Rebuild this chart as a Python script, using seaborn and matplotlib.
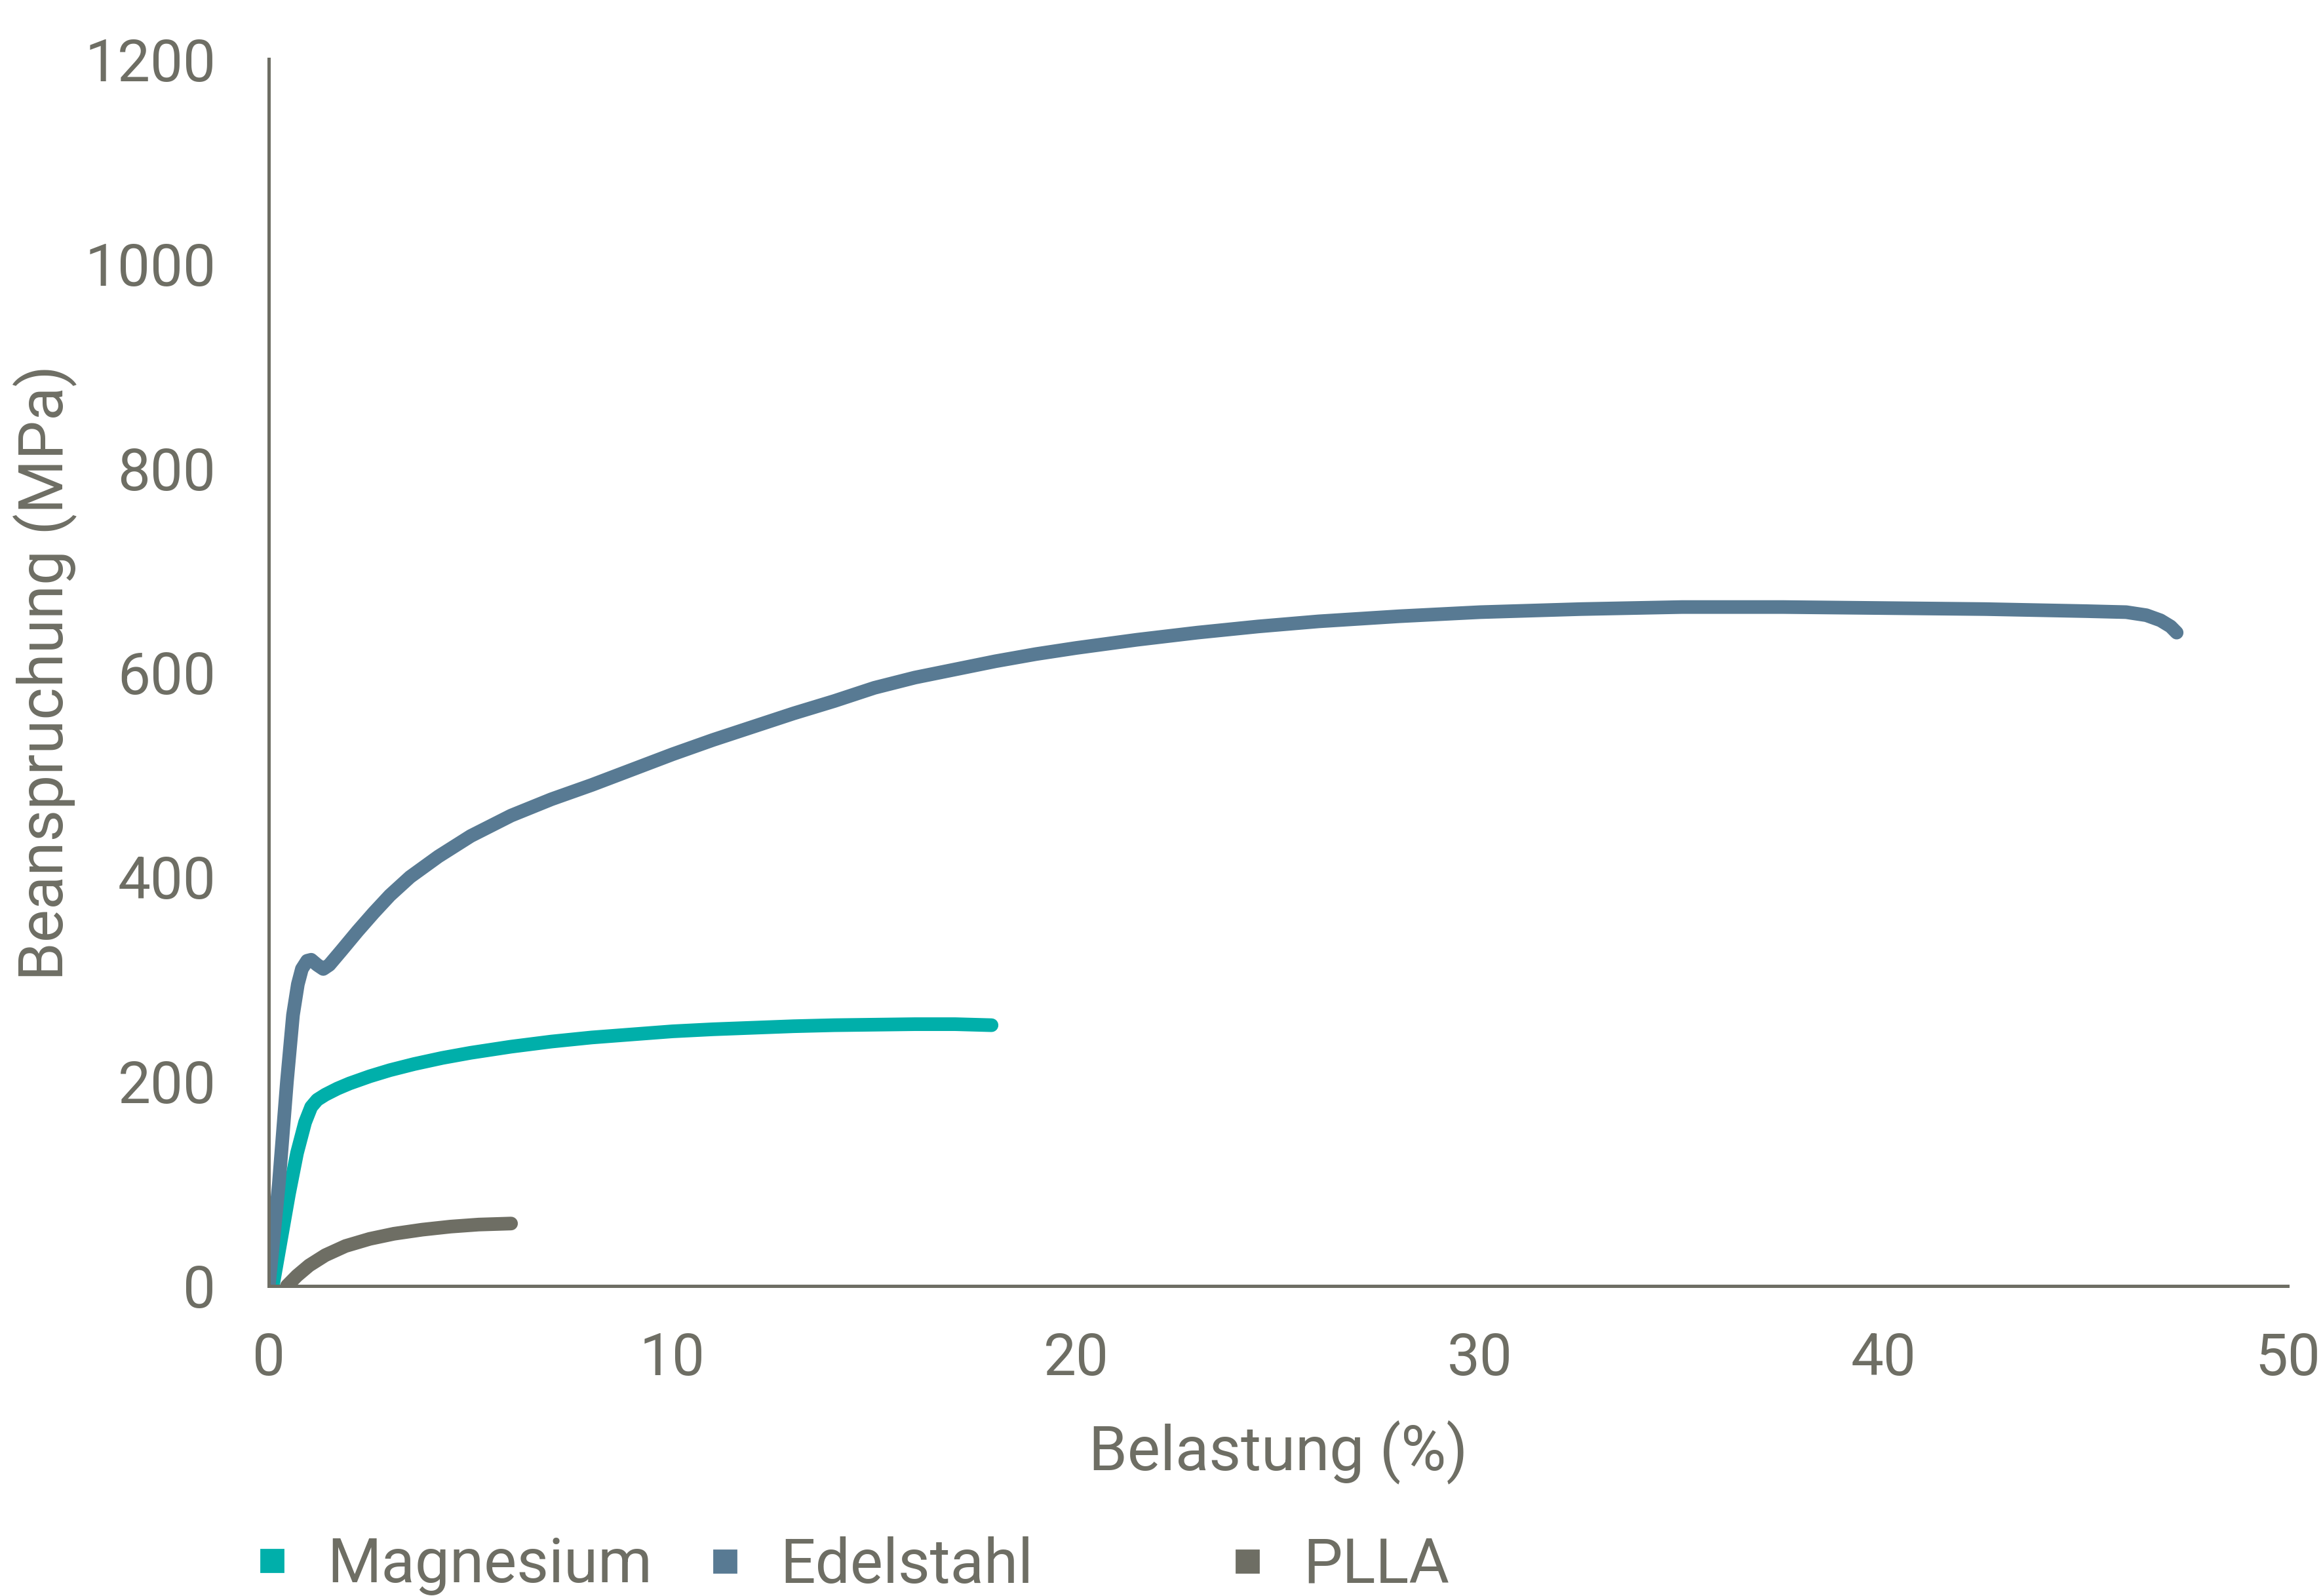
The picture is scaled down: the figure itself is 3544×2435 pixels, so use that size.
import pandas as pd
import numpy as np
import seaborn as sns
import matplotlib.pyplot as plt
from matplotlib.lines import Line2D

# curves (strain %, stress MPa)
mg_x = [0.1, 0.3, 0.5, 0.7, 0.9, 1.05, 1.2, 1.4, 1.7, 2.0, 2.5, 3.0, 3.6, 4.3, 5.0,
        6.0, 7.0, 8.0, 9.0, 10.0, 11.0, 12.0, 13.0, 14.0, 15.0, 16.0, 17.0, 17.9]
mg_y = [0, 45, 90, 130, 160, 175, 182, 187, 193, 198, 205, 211, 217, 223, 228,
        234, 239, 243, 246, 249, 251, 252.5, 254, 255, 255.5, 256, 256, 255]

st_x = [0, 0.25, 0.45, 0.6, 0.72, 0.82, 0.95, 1.05, 1.2, 1.35, 1.5, 1.8, 2.2, 2.6,
        3.0, 3.5, 4.2, 5.0, 6.0, 7.0, 8.0, 9.0, 10.0, 11.0, 12.0, 13.0, 14.0, 15.0,
        16.0, 17.0, 18.0, 19.0, 20.0, 21.5, 23.0, 24.5, 26.0, 28.0, 30.0, 32.5, 35.0,
        37.5, 40.0, 42.5, 45.0, 46.0, 46.5, 46.85, 47.1, 47.25]
st_y = [0, 100, 200, 265, 295, 310, 318, 319, 314, 310, 314, 328, 347, 365,
        382, 400, 420, 440, 460, 476, 490, 505, 520, 534, 547, 560, 572, 585,
        595, 603, 611, 618, 624, 632, 639, 645, 650, 655, 659, 662, 664,
        664, 663, 662, 660, 659, 656, 651, 645, 639]

pl_x = [0.45, 0.7, 1.0, 1.4, 1.9, 2.5, 3.1, 3.8, 4.5, 5.2, 6.0]
pl_y = [0, 10, 20, 30, 39, 46, 51, 55, 58, 60, 61]

materials = ['Magnesium', 'Edelstahl', 'PLLA']
colors = ['#00AFAA', '#587A93', '#6E6E64']
x_ticks = [0, 10, 20, 30, 40, 50]
y_ticks = [0, 200, 400, 600, 800, 1000, 1200]

df = pd.concat([
    pd.DataFrame({'x': mg_x, 'y': mg_y, 'mat': 'Magnesium'}),
    pd.DataFrame({'x': st_x, 'y': st_y, 'mat': 'Edelstahl'}),
    pd.DataFrame({'x': pl_x, 'y': pl_y, 'mat': 'PLLA'}),
])

sns.set_style('white')
grey = '#6E6E64'
plt.rcParams['font.family'] = ['Roboto', 'DejaVu Sans']
plt.rcParams['text.color'] = grey

fig = plt.figure(figsize=(17.72, 12.175), dpi=200)
ax = fig.add_axes([0.1157, 0.1943, 0.8691, 0.7687])

sns.lineplot(data=df, x='x', y='y', hue='mat', palette=dict(zip(materials, colors)),
             sort=False, estimator=None, linewidth=7.5, legend=False, ax=ax,
             solid_capstyle='round', solid_joinstyle='round')

ax.set_xlim(0, 50)
ax.set_ylim(0, 1200)
ax.set_xticks(x_ticks)
ax.set_yticks(y_ticks)
ax.tick_params(colors=grey, labelsize=32, length=17, width=1.8, pad=12)
ax.tick_params(axis='x', pad=8)
sns.despine(ax=ax)
for s in ['left', 'bottom']:
    ax.spines[s].set_color(grey)
    ax.spines[s].set_linewidth(1.8)

ax.set_xlabel('Belastung (%)', fontsize=34, color=grey, labelpad=18)
ax.set_ylabel('Beanspruchung (MPa)', fontsize=34, color=grey)
ax.yaxis.set_label_coords(-0.095, 0.5)

# legend entries placed individually (uneven spacing in the reference)
leg_x = [0.109, 0.304, 0.529]
for name, c, lx in zip(materials, colors, leg_x):
    h = Line2D([], [], marker='s', color=c, linestyle='none', markersize=12)
    fig.legend([h], [name], loc='center left', bbox_to_anchor=(lx, 0.019),
               frameon=False, fontsize=34, handlelength=0.6, handletextpad=0.6,
               borderpad=0, borderaxespad=0, labelcolor=grey)

plt.savefig('out.png', dpi=200)
